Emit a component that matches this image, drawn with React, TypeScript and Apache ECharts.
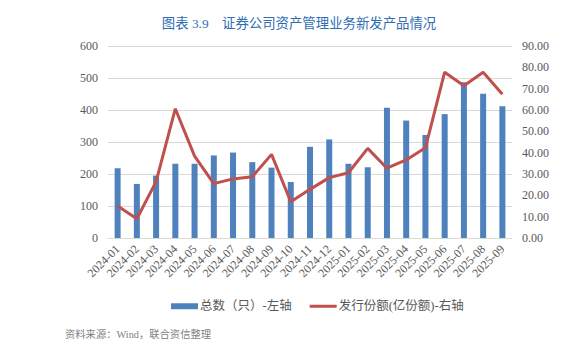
import React, { useEffect, useRef } from "react";
import * as echarts from "echarts";

const categories = [
  "2024-01", "2024-02", "2024-03", "2024-04", "2024-05", "2024-06", "2024-07",
  "2024-08", "2024-09", "2024-10", "2024-11", "2024-12", "2025-01", "2025-02",
  "2025-03", "2025-04", "2025-05", "2025-06", "2025-07", "2025-08", "2025-09",
];
const totalCount = [218, 169, 195, 232, 232, 258, 267, 237, 220, 175, 285, 308, 232, 221, 407, 367, 322, 387, 487, 451, 412];
const issueShares = [15.0, 9.0, 26.4, 60.6, 38.4, 25.5, 27.7, 28.7, 39.2, 17.0, 22.8, 28.3, 30.6, 42.0, 32.7, 36.6, 42.3, 77.7, 71.4, 77.7, 67.4];

const titleText = "图表 3.9　证券公司资产管理业务新发产品情况";
const sourceText = "资料来源：Wind，联合资信整理";
const barName = "总数（只）-左轴";
const lineName = "发行份额(亿份额)-右轴";

const serif = "'Liberation Serif', 'Noto Sans CJK SC', serif";

export default function App() {
  const ref = useRef<HTMLDivElement>(null);
  useEffect(() => {
    if (!ref.current) return;
    const chart = echarts.init(ref.current, undefined, { renderer: "svg" });
    chart.setOption({
      animation: false,
      backgroundColor: "#ffffff",
      title: {
        text: titleText,
        left: 294,
        textAlign: "center",
        top: 12,
        textStyle: { color: "#2e6db4", fontSize: 13.4, fontWeight: "normal", fontFamily: serif },
      },
      graphic: [
        {
          type: "text",
          left: 65,
          top: 329,
          style: { text: sourceText, fill: "#7f7f7f", fontSize: 10.3, fontFamily: serif },
        },
      ],
      legend: {
        top: 295,
        left: 166,
        itemGap: 18,
        itemWidth: 27,
        itemHeight: 6,
        symbolKeepAspect: true,
        textStyle: { color: "#595959", fontSize: 12.5, fontFamily: serif, padding: [0, 0, 0, -3] },
        data: [
          { name: barName, icon: "rect" },
          { name: lineName, icon: "path://M0,0 L27,0 L27,3 L0,3 Z", itemStyle: { color: "#c0504d" } },
        ],
      },
      grid: { left: 108, right: 53, top: 46, bottom: 116 },
      xAxis: {
        type: "category",
        data: categories,
        axisLine: { lineStyle: { color: "#d9d9d9" } },
        axisTick: { show: false },
        axisLabel: { rotate: 45, color: "#595959", fontSize: 12, fontFamily: serif, interval: 0, margin: 9 },
      },
      yAxis: [
        {
          type: "value",
          min: 0,
          max: 600,
          interval: 100,
          axisLine: { show: false },
          axisTick: { show: false },
          axisLabel: { color: "#595959", fontSize: 12, fontFamily: serif, margin: 10 },
          splitLine: { lineStyle: { color: "#d9d9d9", width: 1 } },
        },
        {
          type: "value",
          min: 0,
          max: 90,
          interval: 10,
          axisLine: { show: false },
          axisTick: { show: false },
          axisLabel: { color: "#595959", fontSize: 12, fontFamily: serif, margin: 10, formatter: (v: number) => v.toFixed(2) },
          splitLine: { show: false },
        },
      ],
      series: [
        {
          name: barName,
          type: "bar",
          data: totalCount,
          barWidth: 6,
          itemStyle: { color: "#4f81bd" },
        },
        {
          name: lineName,
          type: "line",
          yAxisIndex: 1,
          data: issueShares,
          symbol: "none",
          lineStyle: { color: "#c0504d", width: 3 },
          itemStyle: { color: "#c0504d" },
        },
      ],
    });
    return () => chart.dispose();
  }, []);
  return <div ref={ref} style={{ width: 565, height: 354, margin: -8 }} />;
}
